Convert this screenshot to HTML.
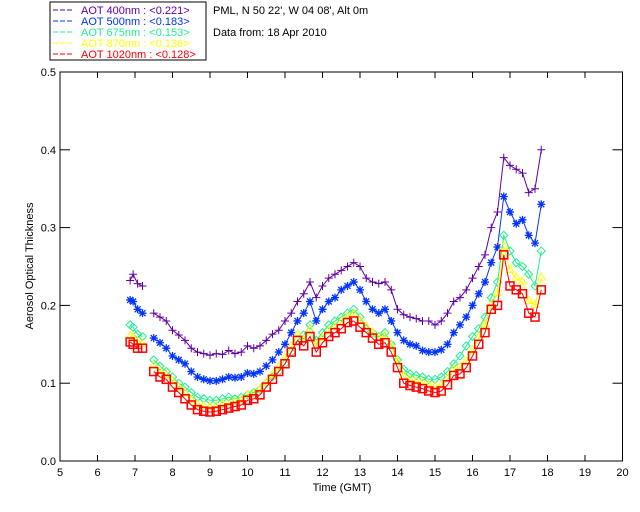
<!DOCTYPE html>
<html><head><meta charset="utf-8"><style>
body{margin:0;background:#fff;}
svg{display:block;font-family:"Liberation Sans",sans-serif;font-size:11px;}
</style></head><body>
<svg id="chart" width="640" height="512" viewBox="0 0 640 512">
<g>
<rect x="50" y="2" width="156" height="58" fill="#fff" stroke="#000"/>
<g><line x1="53" y1="10" x2="73" y2="10" stroke="#6000a0" stroke-dasharray="5,2"/><text x="81" y="14" fill="#6000a0">AOT  400nm : &lt;0.221&gt;</text></g>
<g><line x1="53" y1="21" x2="73" y2="21" stroke="#0033ff" stroke-dasharray="5,2"/><text x="81" y="25" fill="#0033ff">AOT  500nm : &lt;0.183&gt;</text></g>
<g><line x1="53" y1="32" x2="73" y2="32" stroke="#20f090" stroke-dasharray="5,2"/><text x="81" y="36" fill="#20f090">AOT  675nm : &lt;0.153&gt;</text></g>
<g><line x1="53" y1="43" x2="73" y2="43" stroke="#ffff00" stroke-dasharray="5,2"/><text x="81" y="47" fill="#ffff00">AOT  870nm : &lt;0.136&gt;</text></g>
<g><line x1="53" y1="54" x2="73" y2="54" stroke="#ff0000" stroke-dasharray="5,2"/><text x="81" y="58" fill="#ff0000">AOT 1020nm : &lt;0.128&gt;</text></g>
</g>
<text x="213" y="14">PML, N 50 22', W 04 08', Alt 0m</text>
<text x="213" y="36">Data from: 18 Apr 2010</text>
<text x="342" y="491" text-anchor="middle">Time (GMT)</text>
<text transform="translate(33,266) rotate(-90)" text-anchor="middle">Aerosol Optical Thickness</text>
<g id="axes"></g>
<g id="series"></g>
</svg>
<script>
const xTicks=[5,6,7,8,9,10,11,12,13,14,15,16,17,18,19,20];
const yTicks=[0,0.1,0.2,0.3,0.4,0.5];
const yTickLabels=["0.0","0.1","0.2","0.3","0.4","0.5"];
const timesA=[6.87,6.95,7.07,7.2];
const timesB=[];for(let i=0;i<63;i++)timesB.push(7.5+i/6);
const aot400A=[0.232,0.24,0.228,0.225];
const aot400B=[.19,.185,.18,.168,.162,.155,.145,.14,.138,.136,.138,.137,.142,.138,.14,.148,.145,.148,.155,.163,.168,.18,.19,.205,.215,.23,.21,.225,.235,.24,.245,.25,.255,.25,.235,.23,.228,.23,.22,.195,.188,.185,.183,.18,.18,.175,.18,.19,.205,.21,.22,.235,.25,.265,.3,.32,.39,.38,.375,.37,.345,.35,.4];
const aot500A=[0.207,0.205,0.195,0.19];
const aot500B=[.158,.152,.145,.135,.13,.125,.115,.108,.105,.103,.103,.105,.108,.107,.108,.113,.112,.115,.122,.13,.14,.15,.165,.18,.19,.205,.18,.195,.205,.21,.22,.225,.23,.22,.205,.195,.19,.195,.18,.165,.155,.15,.148,.142,.14,.14,.143,.15,.165,.175,.185,.2,.215,.23,.255,.275,.34,.32,.305,.31,.29,.28,.33];
const aot675A=[0.175,0.172,0.163,0.16];
const aot675B=[.13,.122,.115,.108,.1,.095,.088,.082,.08,.078,.078,.08,.082,.08,.082,.085,.088,.092,.1,.108,.115,.125,.14,.155,.162,.175,.155,.165,.175,.18,.185,.19,.195,.185,.17,.165,.16,.165,.15,.13,.118,.112,.11,.108,.105,.105,.108,.115,.125,.135,.148,.16,.17,.185,.21,.23,.29,.27,.255,.25,.24,.225,.27];
const aot870A=[0.16,0.158,0.152,0.15];
const aot870B=[.122,.115,.11,.102,.094,.087,.078,.072,.07,.069,.07,.072,.074,.076,.078,.084,.086,.092,.1,.11,.12,.132,.147,.162,.155,.168,.148,.158,.167,.172,.178,.185,.188,.18,.172,.165,.158,.16,.148,.128,.108,.104,.102,.1,.097,.095,.097,.105,.117,.12,.128,.142,.158,.175,.2,.215,.275,.245,.235,.23,.205,.2,.235];
const aot1020A=[0.153,0.15,0.145,0.145];
const aot1020B=[.115,.108,.105,.095,.088,.08,.072,.066,.064,.063,.064,.066,.068,.07,.072,.078,.08,.085,.095,.105,.115,.125,.14,.155,.148,.16,.14,.152,.16,.165,.17,.178,.18,.172,.165,.158,.15,.152,.14,.12,.1,.097,.095,.093,.09,.088,.09,.098,.11,.112,.12,.135,.15,.165,.195,.2,.265,.225,.22,.215,.19,.185,.22];

const X0=60,X1=622.5,Y0=461,Y1=72;
const xs=t=>X0+(t-5)*(X1-X0)/15;
const ys=v=>Y0-v*(Y0-Y1)/0.5;
const NS="http://www.w3.org/2000/svg";
function mk(tag,attrs,parent){const e=document.createElementNS(NS,tag);for(const k in attrs)e.setAttribute(k,attrs[k]);parent.appendChild(e);return e;}
const ax=document.getElementById('axes');
const frame=mk('rect',{x:X0,y:Y1,width:X1-X0,height:Y0-Y1,fill:'none',stroke:'#000'},ax);


xTicks.forEach(t=>{
  const x=xs(t);
  mk('line',{x1:x,y1:Y0,x2:x,y2:Y0-6,stroke:'#000'},ax);
  mk('line',{x1:x,y1:Y1,x2:x,y2:Y1+6,stroke:'#000'},ax);
  const l=mk('text',{x:x,y:Y0+15,'text-anchor':'middle'},ax);l.textContent=t;
  
  
});
yTicks.forEach((v,i)=>{
  const y=ys(v);
  mk('line',{x1:X0,y1:y,x2:X0+10,y2:y,stroke:'#000'},ax);
  mk('line',{x1:X1,y1:y,x2:X1-10,y2:y,stroke:'#000'},ax);
  const l=mk('text',{x:X0-4,y:y+4,'text-anchor':'end'},ax);l.textContent=yTickLabels[i];
  
  
});
const sg=document.getElementById('series');
function marker(g,type,x,y,c){
  if(type==='plus'){mk('path',{d:`M${x-4} ${y}h8M${x} ${y-4}v8`,stroke:c,fill:'none'},g);}
  else if(type==='star'){mk('path',{d:`M${x-4} ${y}h8M${x} ${y-4}v8M${x-3} ${y-3}l6 6M${x-3} ${y+3}l6 -6`,stroke:c,fill:'none','stroke-width':1.3},g);}
  else if(type==='diamond'){mk('path',{d:`M${x} ${y-4}l4 4l-4 4l-4 -4z`,stroke:c,fill:'none'},g);}
  else if(type==='tri'){mk('path',{d:`M${x} ${y-5}l4 7h-8z`,stroke:c,fill:'none'},g);}
  else {mk('rect',{x:x-4,y:y-4,width:8,height:8,stroke:c,fill:'none','stroke-width':1.5},g);}
}
const series=[
 ['aot-400nm-series','#6000a0','plus',aot400A,aot400B],
 ['aot-500nm-series','#0033ff','star',aot500A,aot500B],
 ['aot-675nm-series','#20f090','diamond',aot675A,aot675B],
 ['aot-870nm-series','#ffff00','tri',aot870A,aot870B],
 ['aot-1020nm-series','#ff0000','square',aot1020A,aot1020B]];
series.forEach(([name,c,type,A,B])=>{
  const g=mk('g',{},sg);
  
  
  [[timesA,A],[timesB,B]].forEach(([T,V])=>{
    const pts=T.map((t,i)=>xs(t).toFixed(1)+','+ys(V[i]).toFixed(1)).join(' ');
    mk('polyline',{points:pts,fill:'none',stroke:c},g);
    T.forEach((t,i)=>marker(g,type,xs(t),ys(V[i]),c));
  });
});
</script>
</body></html>
